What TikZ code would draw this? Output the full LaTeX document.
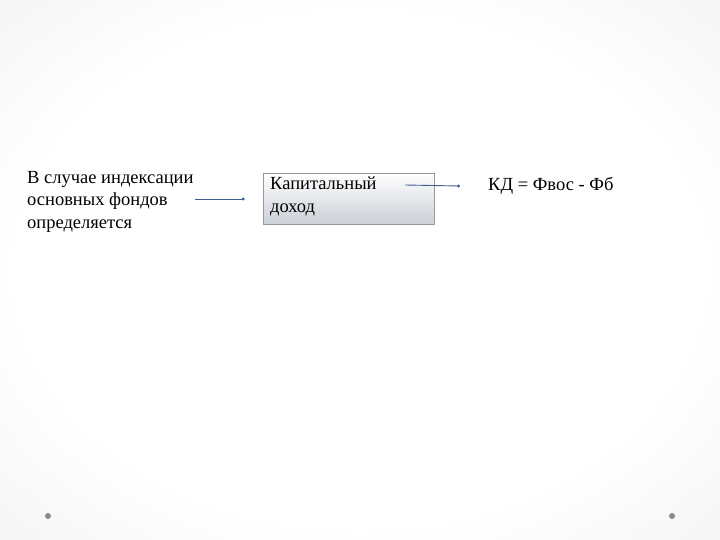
\documentclass[tikz,border=0pt]{standalone}
\usepackage{fontspec}
\setmainfont{Liberation Serif}
\usetikzlibrary{arrows.meta}
\definecolor{edgegray}{HTML}{D6D6D6}
\definecolor{midgray}{HTML}{EDEDED}
\definecolor{linkblue}{HTML}{3F5F95}
\definecolor{boxbot}{HTML}{CBCFD7}
\definecolor{dotgray}{HTML}{8A8A8A}
\pgfdeclareradialshading{slidebg}{\pgfpoint{0bp}{0bp}}{color(0bp)=(white); color(24bp)=(white); color(44bp)=(midgray); color(60bp)=(edgegray); color(72bp)=(edgegray)}
\tikzset{
  txt/.style={font=\fontsize{18.5}{22.5}\selectfont, text=black, inner sep=0pt, align=left, anchor=north west},
  conn/.style={draw=linkblue, line width=0.9pt, -{Circle[length=3pt,fill=gray]}},
  valbox/.style={draw=gray!80, line width=0.6pt, top color=white, bottom color=boxbot, minimum width=171pt, minimum height=51pt, inner sep=0pt},
  dotmark/.style={circle, fill=dotgray, minimum size=6pt, inner sep=0pt}
}
\begin{document}
\begin{tikzpicture}[x=1pt,y=1pt]
\useasboundingbox (0,0) rectangle (720,-540);
\shade[shading=slidebg] (0,0) rectangle (720,-540);
% left text
\node[txt] (src) at (27,-171) {В случае индексации\\основных фондов\\определяется};
\coordinate (a1s) at (195,-199);
% box
\node[valbox] (box) at (348.5,-198.5) {};
\node[txt] (boxt) at (270,-177) {Капитальный\\доход};
\coordinate (a2s) at (405,-185);
% formula
\node[font=\fontsize{18.5}{22}\selectfont, anchor=west, inner sep=0pt] (form) at (488,-186) {КД = Фвос - Фб};
\draw[conn] (a1s) -- ([xshift=-18pt]box.west |- a1s);
\draw[conn] (a2s) -- ([xshift=-28pt]form.west);
% dots
\node[dotmark] (d1) at (48,-516) {};
\node[dotmark] (d2) at (672,-516) {};
\end{tikzpicture}
\end{document}
